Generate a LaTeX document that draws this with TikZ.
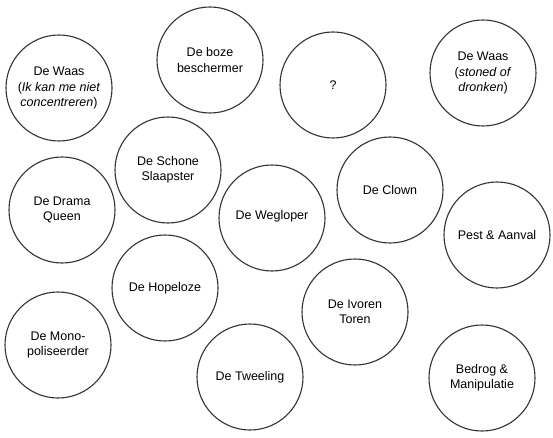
\documentclass[tikz,border=0pt]{standalone}
\usepackage{fontspec}
\setmainfont{Liberation Sans}
\tikzset{
  bubble/.style={circle, draw=black!80, line width=1.1pt, minimum size=106pt, inner sep=0pt,
    align=center, font=\fontsize{12.5}{15.5}\selectfont, text=black},
}
\begin{document}
\begin{tikzpicture}[x=1pt,y=-1pt]
\fill[white] (0,0) rectangle (553,438);
\useasboundingbox (0,0) rectangle (553,438);
\node[bubble] (waas1) at (59,88) {De Waas\\(\textit{Ik kan me niet}\\\textit{concentreren})};
\node[bubble] (boze) at (210,60) {De boze\\beschermer};
\node[bubble] (vraag) at (333,85) {?};
\node[bubble] (waas2) at (483,73) {De Waas\\(\textit{stoned of}\\\textit{dronken})};
\node[bubble] (schone) at (168,170) {De Schone\\Slaapster};
\node[bubble] (clown) at (390,190) {De Clown};
\node[bubble] (drama) at (62,210) {De Drama\\Queen};
\node[bubble] (wegloper) at (272,218) {\raisebox{6pt}{De Wegloper}};
\node[bubble] (pest) at (497,235) {Pest \& Aanval};
\node[bubble] (hopeloze) at (165,288) {De Hopeloze};
\node[bubble] (ivoren) at (355,312) {De Ivoren\\Toren};
\node[bubble] (mono) at (58,345) {De Mono-\\poliseerder};
\node[bubble] (tweeling) at (250,377) {De Tweeling};
\node[bubble] (bedrog) at (482,378) {Bedrog \&\\Manipulatie};
\end{tikzpicture}
\end{document}
